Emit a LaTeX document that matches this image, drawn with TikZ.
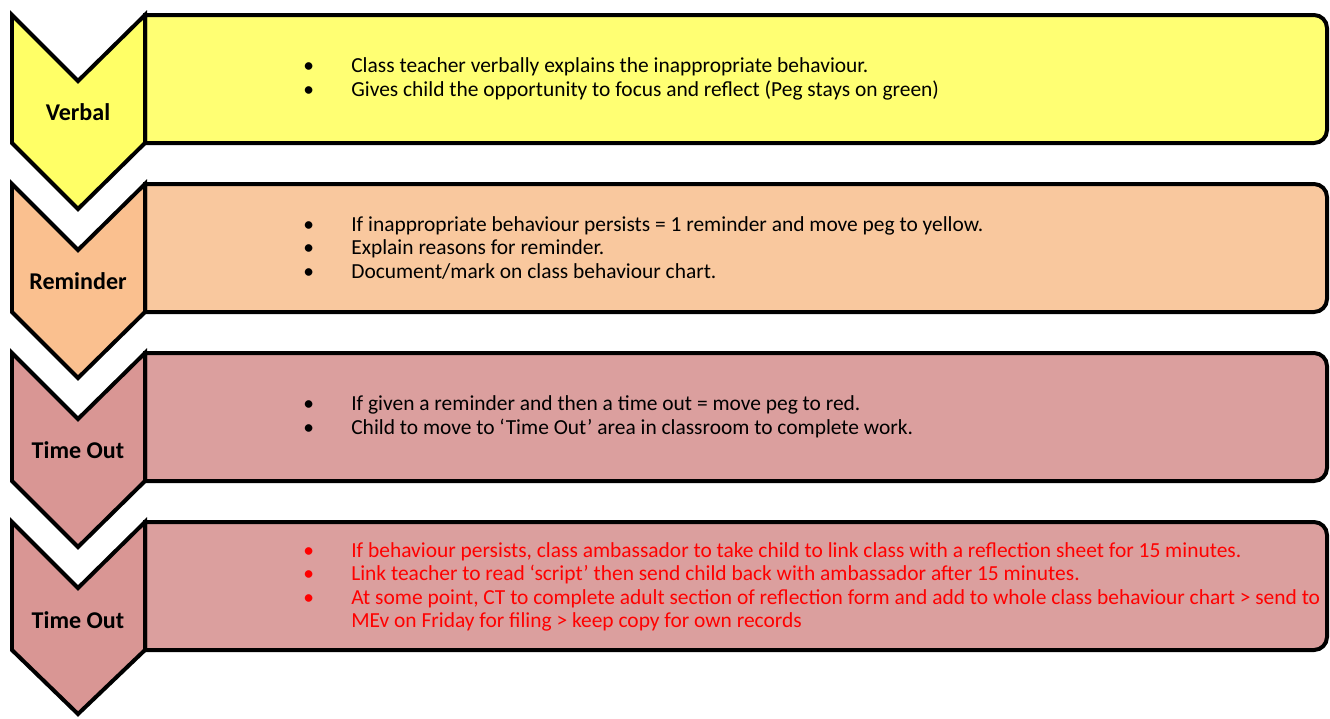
\documentclass[tikz,border=0pt]{standalone}
\usepackage{fontspec}
\setmainfont{Carlito}
\usetikzlibrary{positioning}
\definecolor{verbalArrow}{HTML}{FFFF66}
\definecolor{verbalBox}{HTML}{FFFF73}
\definecolor{reminderArrow}{HTML}{FAC08F}
\definecolor{reminderBox}{HTML}{F9C89E}
\definecolor{timeoutArrow}{HTML}{D99694}
\definecolor{timeoutBox}{HTML}{DB9F9E}
\definecolor{alertText}{HTML}{FF0000}
\tikzstyle{stepline} = [line width=0.08cm, draw=black]
\tikzstyle{stepLabel} = [font=\fontsize{13.7}{16}\selectfont\bfseries, inner sep=0pt]
\tikzstyle{stepText} = [anchor=west, inner sep=0pt, align=left, font=\fontsize{12.2}{13.4}\selectfont]
\newcommand{\bitem}[1]{\makebox[0.96cm][l]{\textbullet}#1}
\newcommand{\bgap}{\hspace*{0.96cm}}

\begin{document}
\begin{tikzpicture}[x=0.02cm, y=0.02cm]
\useasboundingbox (0,0) rectangle (1330,-718);

% Verbal
\draw [stepline, fill=verbalBox] (145,-15) -- (1314,-15) arc [start angle=90, end angle=0, radius=13] -- (1327,-130) arc [start angle=0, end angle=-90, radius=13] -- (145,-143) -- cycle;
\draw [stepline, fill=verbalArrow] (12,-15) -- (78,-81) -- (145,-15) -- (145,-143) -- (78,-209) -- (12,-143) -- cycle;
\node (verbal) [stepLabel] at (78,-112) {Verbal};
\node (verbalText) [stepText] at (303,-79) {\bitem{Class teacher verbally explains the inappropriate behaviour.}\\
  \bitem{Gives child the opportunity to focus and reflect (Peg stays on green)}};

% Reminder
\draw [stepline, fill=reminderBox] (145,-184) -- (1314,-184) arc [start angle=90, end angle=0, radius=13] -- (1327,-299) arc [start angle=0, end angle=-90, radius=13] -- (145,-312) -- cycle;
\draw [stepline, fill=reminderArrow] (12,-184) -- (78,-250) -- (145,-184) -- (145,-312) -- (78,-378) -- (12,-312) -- cycle;
\node (reminder) [stepLabel] at (78,-281) {Reminder};
\node (reminderText) [stepText] at (303,-248) {\bitem{If inappropriate behaviour persists = 1 reminder and move peg to yellow.}\\
  \bitem{Explain reasons for reminder.}\\
  \bitem{Document/mark on class behaviour chart.}};

% Time Out
\draw [stepline, fill=timeoutBox] (145,-353) -- (1314,-353) arc [start angle=90, end angle=0, radius=13] -- (1327,-468) arc [start angle=0, end angle=-90, radius=13] -- (145,-481) -- cycle;
\draw [stepline, fill=timeoutArrow] (12,-353) -- (78,-419) -- (145,-353) -- (145,-481) -- (78,-547) -- (12,-481) -- cycle;
\node (timeout) [stepLabel] at (78,-450) {Time Out};
\node (timeoutText) [stepText] at (303,-417) {\bitem{If given a reminder and then a time out = move peg to red.}\\
  \bitem{Child to move to ‘Time Out’ area in classroom to complete work.}};

% Time Out (link class)
\draw [stepline, fill=timeoutBox] (145,-522) -- (1314,-522) arc [start angle=90, end angle=0, radius=13] -- (1327,-637) arc [start angle=0, end angle=-90, radius=13] -- (145,-650) -- cycle;
\draw [stepline, fill=timeoutArrow] (12,-522) -- (78,-588) -- (145,-522) -- (145,-650) -- (78,-714) -- (12,-650) -- cycle;
\node (linkclass) [stepLabel] at (78,-620) {Time Out};
\node (linkclassText) [stepText, text=alertText] at (303,-587) {\bitem{If behaviour persists, class ambassador to take child to link class with a reflection sheet for 15 minutes.}\\
  \bitem{Link teacher to read ‘script’ then send child back with ambassador after 15 minutes.}\\
  \bitem{At some point, CT to complete adult section of reflection form and add to whole class behaviour chart > send to}\\
  \bgap MEv on Friday for filing > keep copy for own records};
\end{tikzpicture}
\end{document}
